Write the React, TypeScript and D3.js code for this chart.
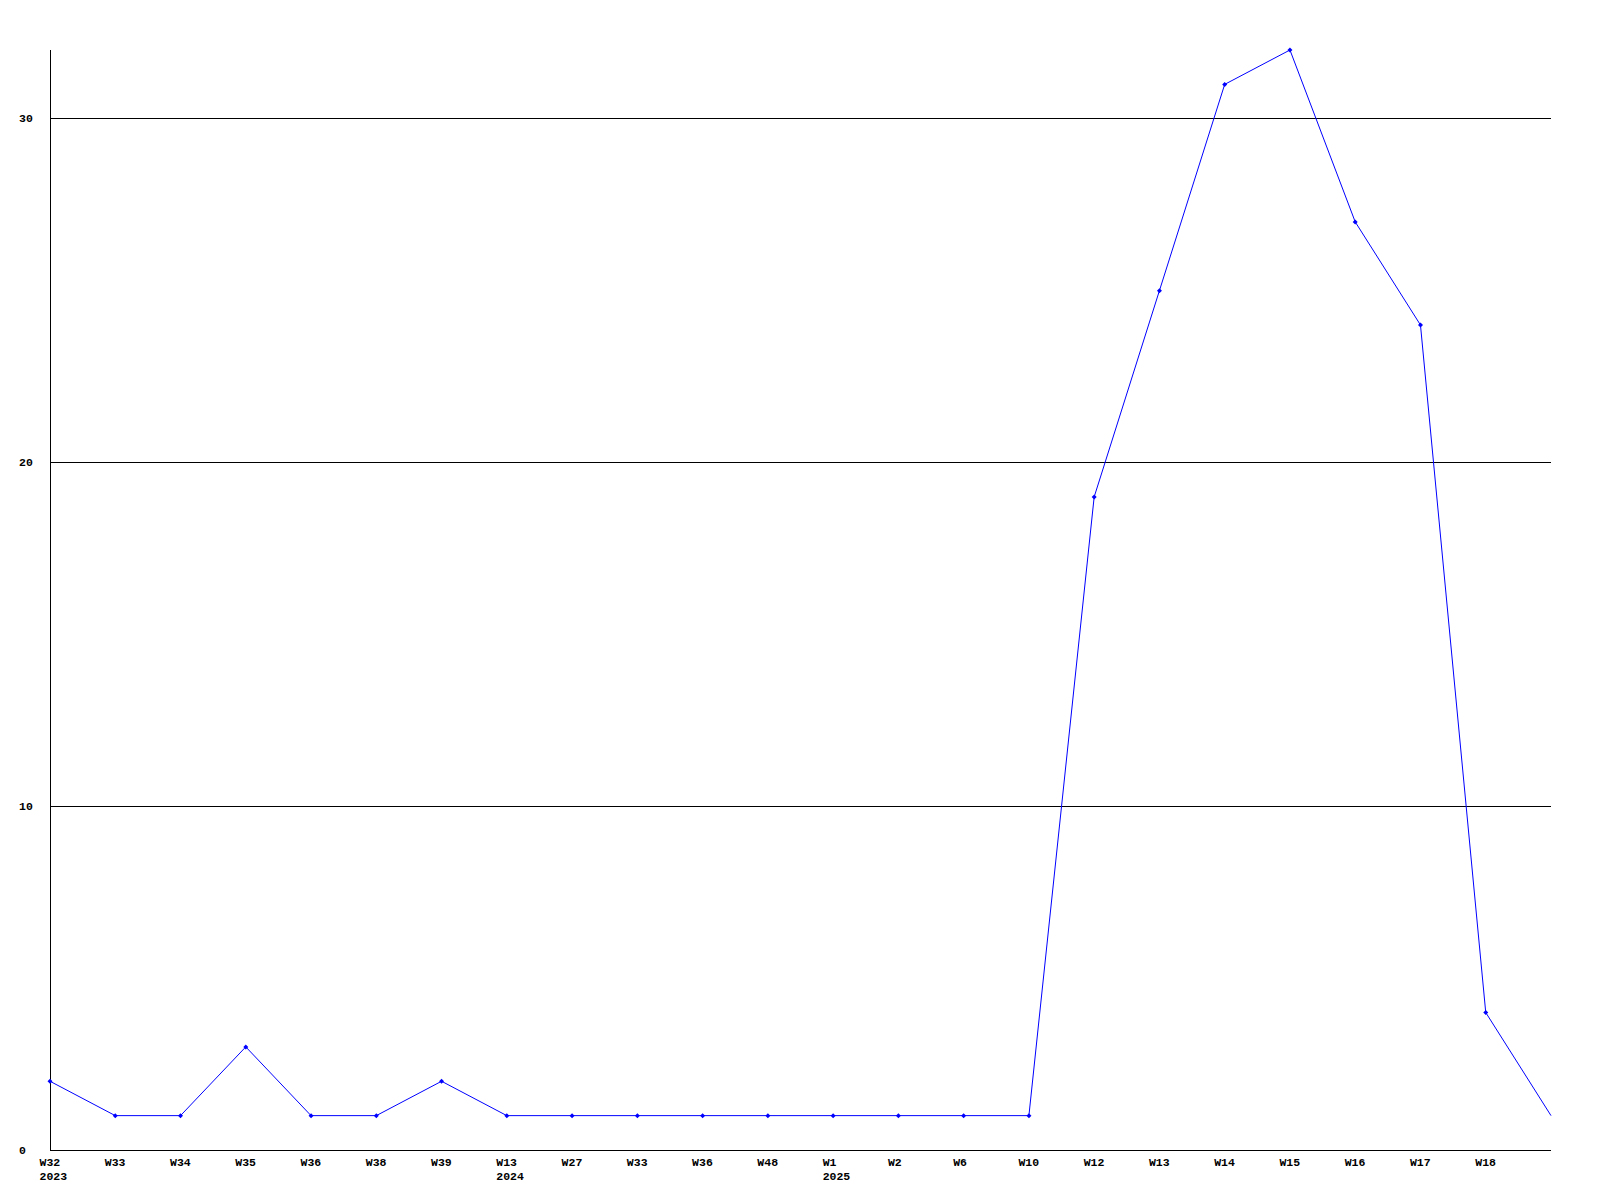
import React from "react";
import * as d3 from "d3";

const weeks = ["W32","W33","W34","W35","W36","W38","W39","W13","W27","W33","W36","W48","W1","W2","W6","W10","W12","W13","W14","W15","W16","W17","W18",""];
const years = ["2023","","","","","","","2024","","","","","2025","","","","","","","","","","",""];
const values = [2,1,1,3,1,1,2,1,1,1,1,1,1,1,1,1,19,25,31,32,27,24,4,1];
const yTicks = [0, 10, 20, 30];

const W = 1600, H = 1200;
const left = 50, right = 1551, top = 50, bottom = 1150;
const font = "'Liberation Mono', 'DejaVu Sans Mono', monospace";

export default function App() {
  const x = d3.scaleLinear().domain([0, values.length - 1]).range([left, right]);
  const y = d3.scaleLinear().domain([0, 32]).range([bottom, top]);
  const line = d3.line<number>().x((_, i) => x(i)).y((d) => y(d));
  return (
    <svg width={W} height={H} style={{ position: "absolute", left: 0, top: 0, display: "block", background: "#fff" }}>
      {yTicks.filter((t) => t > 0).map((t) => (
        <line key={"g" + t} x1={left} x2={right} y1={Math.floor(y(t)) + 0.5} y2={Math.floor(y(t)) + 0.5} stroke="#000" strokeWidth={1} shapeRendering="crispEdges" />
      ))}
      <line x1={left + 0.5} x2={left + 0.5} y1={top} y2={bottom + 0.5} stroke="#000" strokeWidth={1} shapeRendering="crispEdges" />
      <line x1={left} x2={right} y1={bottom + 0.5} y2={bottom + 0.5} stroke="#000" strokeWidth={1} shapeRendering="crispEdges" />
      {yTicks.map((t) => (
        <text key={"y" + t} x={19} y={Math.floor(y(t)) + 4} fontFamily={font} fontWeight="bold" fontSize={11.5} fill="#000">{t}</text>
      ))}
      {weeks.map((w, i) => (
        <g key={"x" + i}>
          {w && <text x={x(i) - 10.5} y={1166} fontFamily={font} fontWeight="bold" fontSize={11.5} fill="#000">{w}</text>}
          {years[i] && <text x={x(i) - 10.5} y={1180} fontFamily={font} fontWeight="bold" fontSize={11.5} fill="#000">{years[i]}</text>}
        </g>
      ))}
      <path d={line(values) || ""} fill="none" stroke="#0000ff" strokeWidth={1} />
      {values.slice(0, values.length - 1).map((v, i) => (
        <path key={"m" + i} d={`M${x(i)},${y(v) - 2.5}L${x(i) + 2.5},${y(v)}L${x(i)},${y(v) + 2.5}L${x(i) - 2.5},${y(v)}Z`} fill="#0000ff" />
      ))}
    </svg>
  );
}
